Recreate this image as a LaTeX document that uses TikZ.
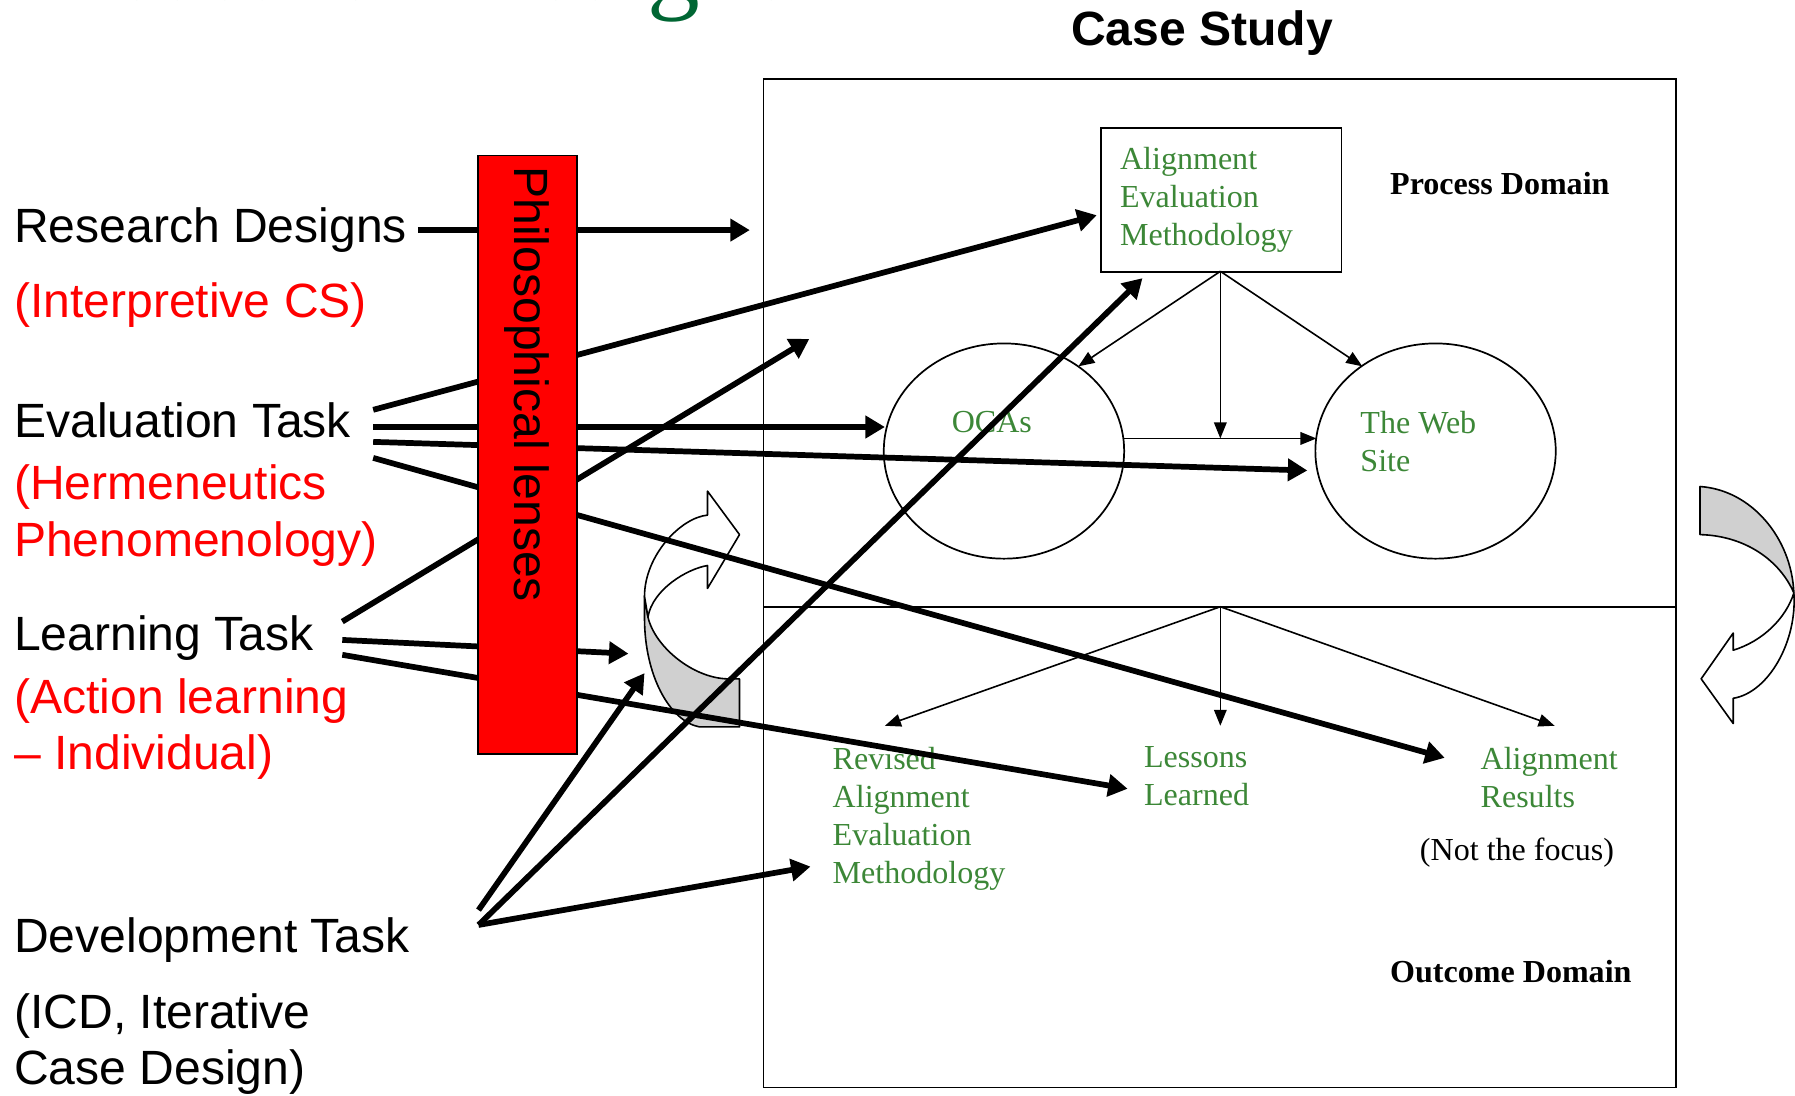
\documentclass[tikz,border=0pt]{standalone}
\usepackage{fontspec}
\setmainfont{Liberation Serif}
\setsansfont{Liberation Sans}
\usetikzlibrary{arrows.meta,shapes.geometric}
\definecolor{lblgreen}{RGB}{60,135,55}
\definecolor{titlegreen}{RGB}{0,102,51}
\definecolor{foldgrey}{RGB}{208,208,208}
\begin{document}
\begin{tikzpicture}[x=0.5pt,y=-0.5pt,
  sanslbl/.style={font=\sffamily\fontsize{21}{25}\selectfont, inner sep=0, anchor=base west},
  redlbl/.style={sanslbl, text=red},
  greenlbl/.style={font=\fontsize{14}{16.6}\selectfont, text=lblgreen, inner sep=0, anchor=north west, align=left},
  blacklbl/.style={font=\fontsize{14}{16.6}\selectfont, inner sep=0, anchor=base west},
  boldlbl/.style={font=\bfseries\fontsize{14}{16.6}\selectfont, inner sep=0, anchor=base west},
  framepen/.style={draw, line width=0.75pt},
  thickarrow/.style={line width=2.5pt, -{Triangle[length=8.5pt,width=9.5pt]}},
  thinarrow/.style={line width=0.7pt, -{Triangle[length=7pt,width=5.5pt]}},
  foldpen/.style={draw, line width=0.7pt, line join=round}
]
\useasboundingbox (0,0) rectangle (1568,957);

% clipped slide title (only its lowest part shows)
\begin{scope}
\clip (0,0) rectangle (1568,957);
\node[font=\fontsize{46}{46}\selectfont, text=titlegreen, inner sep=0, anchor=base west] (slidetitle) at (36,0) {Research Designs};
\end{scope}

% case study frame
\node[font=\sffamily\bfseries\fontsize{21}{25}\selectfont, inner sep=0, anchor=base] (cstitle) at (1050,40) {Case Study};
\draw[framepen] (667,69) rectangle (1464,950);
\draw[framepen] (667,530) -- (1464,530);
\coordinate (hub) at (1066,530);

% process domain
\node[framepen, anchor=north west, minimum width=105pt, minimum height=63pt, inner sep=0] (aem) at (961,111) {};
\node[greenlbl] (aemtxt) at (978,128) {Alignment\\Evaluation\\Methodology};
\node[boldlbl] (procdom) at (1214,170) {Process Domain};
\node[framepen, ellipse, minimum width=105pt, minimum height=94pt, inner sep=0] (ocas) at (877,394) {};
\node[framepen, ellipse, minimum width=105pt, minimum height=94pt, inner sep=0] (web) at (1254,394) {};
\node[font=\fontsize{14}{16.6}\selectfont, text=lblgreen, inner sep=0, anchor=base west] (ocastxt) at (831,378) {OCAs};
\node[greenlbl] (webtxt) at (1188,359) {The Web\\Site};

\coordinate (aembot) at (1066,237);
\coordinate (ocasin) at (942,320);
\coordinate (webin) at (1190,320);
\coordinate (midjoin) at (1066,383);
\coordinate (ocasout) at (982,383);
\coordinate (webleft) at (1150,383);
\draw[thinarrow] (aembot) -- (ocasin);
\draw[thinarrow] (aembot) -- (webin);
\draw[thinarrow] (aembot) -- (midjoin);
\draw[thinarrow] (ocasout) -- (webleft);

% outcome domain
\node[greenlbl] (revtxt) at (727,652) {Revised\\Alignment\\Evaluation\\Methodology};
\node[greenlbl] (lestxt) at (999,652) {Lessons\\Learned};
\node[greenlbl] (restxt) at (1293,652) {Alignment\\Results};
\node[blacklbl] (notfocus) at (1240,752) {(Not the focus)};
\node[boldlbl] (outdom) at (1214,858) {Outcome Domain};
\coordinate (revin) at (773,634);
\coordinate (lesin) at (1066,634);
\coordinate (resin) at (1358,634);
\draw[thinarrow] (hub) -- (revin);
\draw[thinarrow] (hub) -- (lesin);
\draw[thinarrow] (hub) -- (resin);

% cycle arrow (middle)
\draw[foldpen, fill=foldgrey] (563,521) -- (563,540) .. controls (563,590) and (585,630) .. (611,635) -- (646,635) -- (646,593) -- (635,593) .. controls (605,592) and (572,565) .. (566,539) -- cycle;
\draw[foldpen, fill=white] (563,521) .. controls (563,485) and (595,452) .. (618,450) -- (618,429) -- (646,467) -- (618,514) -- (618,494) .. controls (600,497) and (570,515) .. (566,539) -- cycle;

% right curved arrow
\draw[foldpen, fill=foldgrey] (1485,425) .. controls (1530,428) and (1565,470) .. (1567,518) .. controls (1555,490) and (1525,468) .. (1485,467) -- cycle;
\draw[foldpen, fill=white] (1567,518) .. controls (1570,560) and (1545,605) .. (1514,610) -- (1514,632) -- (1486,593) -- (1514,553) -- (1514,568) .. controls (1540,560) and (1560,540) .. (1567,518) -- cycle;

% left labels
\node[sanslbl] (rd) at (12,212) {Research Designs};
\node[redlbl] (rdsub) at (12,277) {(Interpretive CS)};
\node[sanslbl] (ev) at (12,382) {Evaluation Task};
\node[redlbl] (evsubA) at (12,436) {(Hermeneutics};
\node[redlbl] (evsubB) at (12,486) {Phenomenology)};
\node[sanslbl] (lt) at (12,568) {Learning Task};
\node[redlbl] (ltsubA) at (12,623) {(Action learning};
\node[redlbl] (ltsubB) at (12,672) {-- Individual)};
\node[sanslbl] (dt) at (12,832) {Development Task};
\node[sanslbl] (dtsubA) at (12,898) {(ICD, Iterative};
\node[sanslbl] (dtsubB) at (12,947) {Case Design)};

% thick connectors
\coordinate (rdS) at (365,201);   \coordinate (rdE) at (655,201);
\coordinate (evA) at (326,358);   \coordinate (evAE) at (958,188);
\coordinate (evB) at (326,373);   \coordinate (evBE) at (773,373);
\coordinate (evC) at (326,386);   \coordinate (evCE) at (1142,411);
\coordinate (evD) at (326,400);   \coordinate (evDE) at (1262,662);
\coordinate (ltA) at (299,543);   \coordinate (ltAE) at (707,296);
\coordinate (ltB) at (299,559);   \coordinate (ltBE) at (549,571);
\coordinate (ltC) at (299,572);   \coordinate (ltCE) at (985,689);
\coordinate (dtA) at (418,795);   \coordinate (dtAE) at (563,588);
\coordinate (dtB) at (418,808);   \coordinate (dtBE) at (998,243);
\coordinate (dtCE) at (708,757);
\draw[thickarrow] (rdS) -- (rdE);
\draw[thickarrow] (evA) -- (evAE);
\draw[thickarrow] (evB) -- (evBE);
\draw[thickarrow] (evC) -- (evCE);
\draw[thickarrow] (evD) -- (evDE);
\draw[thickarrow] (ltA) -- (ltAE);
\draw[thickarrow] (ltB) -- (ltBE);
\draw[thickarrow] (ltC) -- (ltCE);
\draw[thickarrow] (dtA) -- (dtAE);
\draw[thickarrow] (dtB) -- (dtBE);
\draw[thickarrow] (dtB) -- (dtCE);

% philosophical lenses bar
\node[draw, line width=0.75pt, fill=red, anchor=north west, minimum width=43pt, minimum height=261.5pt, inner sep=0] (lens) at (417,135) {};
\node[font=\sffamily\fontsize{21}{25}\selectfont, inner sep=0, anchor=base west, rotate=-90] (lenstxt) at (449,145) {Philosophical lenses};
\end{tikzpicture}
\end{document}
